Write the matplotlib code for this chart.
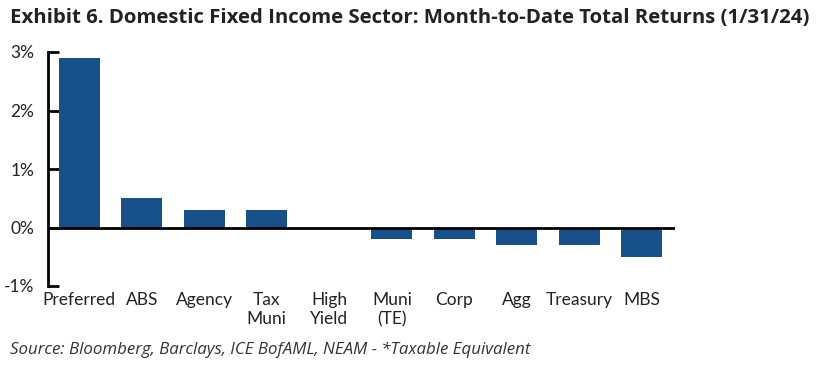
import matplotlib
matplotlib.use("Agg")
import matplotlib.pyplot as plt
import numpy as np

# ------------------------------------------------------------------
# data (month-to-date total return, %)
# ------------------------------------------------------------------
sectors = ["Preferred", "ABS", "Agency", "Tax\nMuni", "High\nYield",
           "Muni\n(TE)", "Corp", "Agg", "Treasury", "MBS"]
returns = [2.9, 0.5, 0.3, 0.3, 0.0, -0.2, -0.2, -0.3, -0.3, -0.5]
yticks = [-1, 0, 1, 2, 3]
ytick_labels = ["-1%", "0%", "1%", "2%", "3%"]

BAR_COLOR = "#17508A"
TEXT_COLOR = "#222222"

plt.rcParams["font.family"] = ["Lato", "DejaVu Sans"]

fig = plt.figure(figsize=(8.29, 3.66), dpi=100)
ax = fig.add_axes([48 / 829, 1 - 286 / 366, (675 - 48) / 829, (286 - 52) / 366])

x = np.arange(len(sectors))
ax.bar(x, returns, width=0.66, color=BAR_COLOR, zorder=2)
ax.axhline(0, color="black", linewidth=2, zorder=3)

ax.set_xlim(-0.5, len(sectors) - 0.47)
ax.set_ylim(-1, 3)

# --- axes styling ------------------------------------------------
for side in ["top", "right", "bottom"]:
    ax.spines[side].set_visible(False)
ax.spines["left"].set_linewidth(2)
ax.spines["left"].set_color("black")

ax.set_yticks(yticks)
ax.set_yticklabels(ytick_labels, fontsize=12.5, color=TEXT_COLOR)
ax.tick_params(axis="y", direction="in", length=8, width=2, pad=10)

ax.set_xticks(x)
ax.set_xticklabels(sectors, fontsize=12.5, color=TEXT_COLOR,
                   linespacing=1.25, va="top")
ax.tick_params(axis="x", length=0, pad=4)

# --- titles ------------------------------------------------------
fig.text(10 / 829, 1 - 18 / 366,
         "Exhibit 6. Domestic Fixed Income Sector: Month-to-Date Total Returns (1/31/24)",
         fontsize=14.7, fontweight="bold", color=TEXT_COLOR, va="center", ha="left",
         family=["Open Sans", "DejaVu Sans"])
fig.text(10 / 829, 1 - 350 / 366,
         "Source: Bloomberg, Barclays, ICE BofAML, NEAM - *Taxable Equivalent",
         fontsize=12.2, style="italic", color="#333333", va="center", ha="left",
         family=["Open Sans", "DejaVu Sans"])

fig.savefig("out.png", dpi=100)
